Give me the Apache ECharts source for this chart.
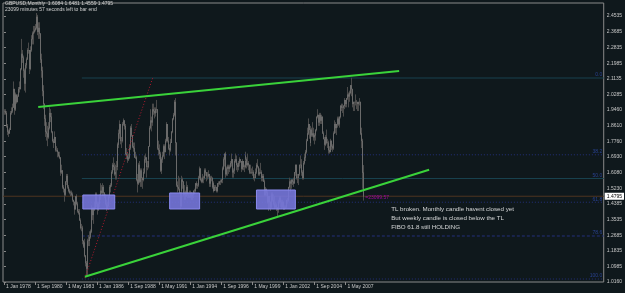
<!DOCTYPE html>
<html><head><meta charset="utf-8">
<script src="https://cdn.jsdelivr.net/npm/echarts@6/dist/echarts.min.js"></script>
<style>html,body{margin:0;padding:0;background:#0f181c;}#c{width:625px;height:293px;}</style>
</head><body><div id="c"></div>
<script>
// ---- data: GBPUSD monthly, Jan 1978 .. Nov 2008 (month index 0 = Jan 1978) ----
const firstOpen = 1.94;
const highs = [
1.95,1.95,1.94,1.87,1.84,1.85,1.94,1.96,1.98,2.10,2.06,2.04,
2.02,2.03,2.07,2.09,2.10,2.17,2.33,2.27,2.24,2.17,2.20,2.23,
2.28,2.31,2.27,2.29,2.35,2.37,2.40,2.40,2.41,2.47,2.46,2.42,
2.42,2.36,2.25,2.18,2.08,1.98,1.92,1.88,1.86,1.88,1.96,1.95,
1.93,1.87,1.83,1.79,1.83,1.80,1.75,1.74,1.72,1.72,1.69,1.65,
1.62,1.54,1.52,1.56,1.60,1.60,1.54,1.52,1.51,1.51,1.50,1.46,
1.45,1.48,1.49,1.45,1.41,1.41,1.36,1.33,1.32,1.24,1.25,1.23,
1.16,1.13,1.25,1.27,1.29,1.30,1.43,1.42,1.42,1.45,1.50,1.50,
1.45,1.45,1.49,1.55,1.54,1.55,1.54,1.50,1.49,1.46,1.45,1.48,
1.54,1.55,1.62,1.66,1.69,1.66,1.65,1.66,1.67,1.77,1.84,1.89,
1.87,1.80,1.88,1.90,1.89,1.87,1.74,1.72,1.71,1.76,1.86,1.87,
1.81,1.77,1.77,1.72,1.70,1.60,1.66,1.67,1.63,1.63,1.58,1.63,
1.70,1.71,1.69,1.67,1.69,1.75,1.86,1.95,1.91,1.98,1.98,1.96,
1.96,2.00,1.95,1.78,1.76,1.72,1.69,1.72,1.76,1.76,1.79,1.88,
1.87,1.80,1.76,1.79,1.83,1.90,1.93,2.00,2.01,1.77,1.56,1.59,
1.58,1.50,1.52,1.59,1.58,1.56,1.54,1.51,1.56,1.54,1.50,1.51,
1.51,1.50,1.50,1.51,1.52,1.55,1.56,1.55,1.59,1.64,1.63,1.58,
1.60,1.59,1.63,1.63,1.61,1.61,1.62,1.60,1.59,1.59,1.58,1.56,
1.55,1.54,1.54,1.53,1.55,1.56,1.56,1.57,1.57,1.64,1.69,1.71,
1.72,1.64,1.65,1.65,1.65,1.67,1.71,1.68,1.63,1.68,1.71,1.70,
1.66,1.67,1.69,1.68,1.67,1.68,1.66,1.65,1.71,1.72,1.69,1.71,
1.67,1.65,1.65,1.63,1.64,1.62,1.60,1.63,1.66,1.68,1.64,1.63,
1.66,1.62,1.60,1.60,1.57,1.53,1.52,1.51,1.48,1.48,1.45,1.50,
1.50,1.49,1.48,1.45,1.44,1.42,1.43,1.46,1.48,1.48,1.46,1.46,
1.45,1.43,1.43,1.46,1.47,1.53,1.58,1.57,1.57,1.57,1.58,1.61,
1.65,1.65,1.60,1.60,1.65,1.70,1.68,1.62,1.67,1.71,1.73,1.79,
1.85,1.90,1.87,1.86,1.84,1.85,1.88,1.85,1.82,1.84,1.91,1.95,
1.91,1.93,1.93,1.92,1.91,1.83,1.80,1.81,1.84,1.79,1.78,1.75,
1.79,1.78,1.76,1.83,1.89,1.88,1.87,1.91,1.91,1.91,1.97,1.98,
1.98,1.97,1.97,2.01,2.00,2.01,2.07,2.04,2.05,2.08,2.12,2.06,
1.99,1.99,2.03,2.00,1.98,1.99,2.01,1.99,1.85,1.79,1.6481];
const lows = [
1.92,1.92,1.85,1.81,1.80,1.82,1.84,1.92,1.93,1.96,1.92,1.94,
1.98,1.99,2.02,2.05,2.04,2.06,2.16,2.20,2.12,2.05,2.04,2.17,
2.22,2.25,2.14,2.16,2.26,2.30,2.30,2.36,2.37,2.38,2.35,2.33,
2.33,2.20,2.12,2.02,1.95,1.86,1.80,1.78,1.75,1.79,1.84,1.88,
1.86,1.82,1.77,1.74,1.77,1.72,1.72,1.69,1.69,1.68,1.59,1.60,
1.52,1.50,1.45,1.48,1.54,1.52,1.50,1.49,1.48,1.48,1.45,1.43,
1.38,1.41,1.43,1.39,1.38,1.35,1.30,1.29,1.22,1.20,1.18,1.15,
1.10,1.045,1.05,1.21,1.21,1.25,1.28,1.35,1.33,1.40,1.41,1.42,
1.38,1.40,1.42,1.46,1.49,1.48,1.48,1.47,1.43,1.40,1.41,1.42,
1.47,1.50,1.53,1.60,1.62,1.59,1.57,1.57,1.60,1.62,1.74,1.79,
1.76,1.74,1.77,1.86,1.84,1.70,1.68,1.66,1.67,1.68,1.73,1.80,
1.74,1.72,1.69,1.68,1.56,1.50,1.54,1.55,1.53,1.53,1.52,1.56,
1.60,1.66,1.58,1.62,1.63,1.67,1.75,1.84,1.83,1.86,1.92,1.90,
1.91,1.93,1.73,1.70,1.68,1.61,1.60,1.66,1.69,1.68,1.72,1.77,
1.77,1.73,1.70,1.72,1.77,1.82,1.89,1.91,1.70,1.53,1.50,1.51,
1.50,1.41,1.42,1.50,1.52,1.48,1.46,1.46,1.49,1.47,1.47,1.47,
1.47,1.46,1.46,1.47,1.49,1.50,1.52,1.52,1.53,1.57,1.56,1.55,
1.55,1.55,1.57,1.59,1.56,1.57,1.58,1.53,1.53,1.56,1.52,1.53,
1.50,1.52,1.51,1.50,1.50,1.53,1.54,1.54,1.55,1.55,1.62,1.64,
1.58,1.59,1.59,1.60,1.61,1.63,1.64,1.58,1.58,1.60,1.66,1.62,
1.61,1.62,1.64,1.66,1.61,1.62,1.62,1.61,1.63,1.67,1.63,1.64,
1.62,1.60,1.60,1.60,1.59,1.57,1.56,1.58,1.60,1.63,1.59,1.59,
1.60,1.56,1.56,1.56,1.48,1.48,1.48,1.44,1.40,1.41,1.40,1.42,
1.45,1.43,1.41,1.42,1.40,1.37,1.39,1.41,1.44,1.42,1.41,1.42,
1.41,1.41,1.41,1.42,1.44,1.45,1.52,1.50,1.52,1.54,1.53,1.55,
1.59,1.57,1.55,1.54,1.59,1.63,1.59,1.57,1.57,1.65,1.67,1.71,
1.78,1.81,1.79,1.76,1.75,1.80,1.80,1.78,1.76,1.78,1.83,1.90,
1.86,1.86,1.87,1.87,1.82,1.79,1.73,1.75,1.76,1.74,1.71,1.71,
1.72,1.73,1.72,1.73,1.82,1.82,1.81,1.85,1.86,1.85,1.90,1.94,
1.93,1.93,1.91,1.95,1.96,1.96,2.00,1.96,1.99,2.03,2.02,1.96,
1.94,1.94,1.97,1.95,1.94,1.94,1.97,1.81,1.74,1.52,1.4559];
const closes = [
1.94,1.93,1.86,1.83,1.82,1.84,1.93,1.94,1.96,2.06,1.95,2.03,
1.99,2.02,2.06,2.07,2.06,2.17,2.25,2.23,2.16,2.09,2.19,2.22,
2.27,2.27,2.17,2.27,2.33,2.36,2.37,2.38,2.39,2.45,2.37,2.39,
2.36,2.22,2.16,2.05,1.98,1.90,1.83,1.82,1.80,1.85,1.93,1.91,
1.87,1.83,1.78,1.77,1.80,1.73,1.73,1.72,1.70,1.69,1.61,1.62,
1.53,1.52,1.49,1.56,1.59,1.53,1.51,1.50,1.50,1.49,1.46,1.45,
1.41,1.48,1.44,1.40,1.39,1.35,1.31,1.31,1.24,1.21,1.23,1.16,
1.12,1.09,1.24,1.24,1.26,1.29,1.41,1.38,1.41,1.42,1.49,1.44,
1.41,1.44,1.48,1.51,1.50,1.53,1.50,1.48,1.44,1.42,1.43,1.48,
1.53,1.54,1.61,1.65,1.64,1.60,1.61,1.64,1.64,1.76,1.82,1.87,
1.78,1.78,1.87,1.89,1.86,1.71,1.70,1.68,1.69,1.74,1.85,1.81,
1.75,1.74,1.69,1.69,1.57,1.55,1.65,1.56,1.62,1.58,1.57,1.61,
1.68,1.69,1.64,1.64,1.68,1.75,1.85,1.89,1.88,1.95,1.94,1.93,
1.95,1.95,1.74,1.73,1.71,1.62,1.68,1.70,1.75,1.72,1.78,1.87,
1.78,1.74,1.73,1.77,1.83,1.90,1.92,1.99,1.77,1.54,1.53,1.52,
1.50,1.43,1.51,1.57,1.56,1.49,1.50,1.48,1.53,1.49,1.48,1.48,
1.50,1.48,1.49,1.51,1.51,1.55,1.54,1.54,1.58,1.63,1.57,1.56,
1.58,1.58,1.62,1.61,1.59,1.59,1.60,1.55,1.58,1.58,1.53,1.55,
1.51,1.53,1.53,1.51,1.55,1.55,1.56,1.56,1.57,1.63,1.68,1.71,
1.60,1.63,1.64,1.63,1.64,1.66,1.68,1.61,1.62,1.67,1.68,1.65,
1.64,1.66,1.68,1.67,1.63,1.67,1.64,1.64,1.70,1.68,1.65,1.66,
1.65,1.61,1.61,1.61,1.61,1.58,1.58,1.61,1.65,1.64,1.60,1.61,
1.61,1.58,1.59,1.56,1.49,1.52,1.50,1.45,1.48,1.45,1.42,1.49,
1.46,1.44,1.42,1.43,1.42,1.41,1.42,1.45,1.47,1.45,1.42,1.45,
1.41,1.42,1.42,1.46,1.46,1.53,1.56,1.55,1.57,1.56,1.55,1.61,
1.65,1.58,1.58,1.60,1.65,1.65,1.61,1.58,1.66,1.69,1.72,1.78,
1.82,1.87,1.84,1.77,1.84,1.81,1.82,1.80,1.81,1.84,1.91,1.92,
1.88,1.92,1.89,1.91,1.82,1.79,1.76,1.80,1.77,1.77,1.73,1.72,
1.78,1.75,1.74,1.82,1.87,1.85,1.87,1.90,1.87,1.91,1.97,1.96,
1.96,1.96,1.97,2.00,1.98,2.01,2.03,2.02,2.04,2.08,2.06,1.98,
1.99,1.99,1.99,1.99,1.98,1.99,1.99,1.82,1.78,1.6084,1.4795];

const xTickMonths = [0,32,64,96,128,160,192,224,256,288,320,352];
const xTickLabels = ['1 Jan 1978','1 Sep 1980','1 May 1983','1 Jan 1986','1 Sep 1988','1 May 1991',
  '1 Jan 1994','1 Sep 1996','1 May 1999','1 Jan 2002','1 Sep 2004','1 May 2007'];
const yTickValues = [2.4535,2.3685,2.2835,2.1985,2.1135,2.0285,1.9460,1.8610,1.7760,1.6930,
  1.6080,1.5230,1.4385,1.3535,1.2685,1.1835,1.0985,1.0160];

const bidPrice = 1.4795;
// fibonacci tool (from 1985 low to level 0)
const fibHigh = 2.1186, fibLow = 1.0322, fibStartMonth = 80.3;
const fibLevels = ['0.0','38.2','50.0','61.8','78.6','100.0'];
// trend lines [month, price]
const upperTL = [[35.3, 1.9617], [407.4, 2.1565]];
const lowerTL = [[83.4, 1.0447], [438.3, 1.623]];
const fibDiag = [[83.4, 1.037], [153.3, 2.1186]];
// zones [monthStart, monthEnd, priceTop, priceBottom]
const zones = [[81.3, 114.2, 1.4862, 1.4106], [170.8, 201.7, 1.4971, 1.4106], [260.3, 300.4, 1.5133, 1.4106]];
const noteLines = ['TL broken. Monthly candle havent closed yet', 'But weekly candle is closed below the TL', 'FIBO 61.8 still HOLDING'];
const notePrices = [1.4106, 1.3620, 1.3133];
const noteMonth = 399.2;
const tickerText = '=23099.57';
const tickerPos = [372.5, 1.470];

// ---- chart ----
const FONT = 'Liberation Sans';
const xMin = -1, xMax = 618.3, yMin = 1.016, yMax = 2.524;
const candles = highs.map((h, i) => [i, i === 0 ? firstOpen : closes[i - 1], closes[i], lows[i], h]);

const fibSeries = [], fibLabelData = [];
fibLevels.forEach((lv) => {
  const p = fibHigh - parseFloat(lv) / 100 * (fibHigh - fibLow);
  const solid = (lv === '0.0' || lv === '50.0');
  fibSeries.push({
    type: 'line', data: [[fibStartMonth, p], [xMax, p]], symbol: 'none', silent: true, z: 2,
    lineStyle: { color: solid ? '#18414e' : '#24307c', width: 1, type: solid ? 'solid' : (lv === '78.6' ? [3, 2] : [1, 2]) }
  });
  fibLabelData.push([xMax - 0.5, p, lv]);
});

const chart = echarts.init(document.getElementById('c'));
chart.setOption({
  backgroundColor: '#0f181c',
  animation: false,
  title: {
    text: 'GBPUSD,Monthly  1.6084 1.6481 1.4559 1.4795',
    subtext: '23099 minutes 57 seconds left to bar end',
    left: 5, top: 1, itemGap: 1, padding: 0,
    textStyle: { fontFamily: FONT, fontSize: 5, fontWeight: 'normal', color: '#d0d0d0' },
    subtextStyle: { fontFamily: FONT, fontSize: 5, color: '#d0d0d0' }
  },
  grid: { left: 3, right: 20, top: 3, bottom: 11, show: true, borderColor: '#8a8a8a', borderWidth: 1, backgroundColor: 'transparent' },
  xAxis: {
    type: 'value', min: xMin, max: xMax,
    axisLine: { show: false },
    splitLine: { show: false },
    axisTick: { show: true, customValues: xTickMonths, length: 3, lineStyle: { color: '#8a8a8a' } },
    axisLabel: {
      customValues: xTickMonths, align: 'left', margin: 2, padding: [0, 0, 0, 2],
      fontFamily: FONT, fontSize: 5, color: '#c8c8c8',
      formatter: v => xTickLabels[xTickMonths.indexOf(v)] || ''
    }
  },
  yAxis: {
    type: 'value', position: 'right', min: yMin, max: yMax, scale: true,
    axisLine: { show: false },
    splitLine: { show: false },
    axisTick: { show: true, customValues: yTickValues, length: 2, lineStyle: { color: '#8a8a8a' } },
    axisLabel: {
      customValues: yTickValues, margin: 3, fontFamily: FONT, fontSize: 5, color: '#c8c8c8',
      formatter: v => v.toFixed(4)
    }
  },
  series: [
    // bid line
    {
      type: 'line', data: [[xMin, bidPrice], [xMax, bidPrice]], symbol: 'none', silent: true, z: 1,
      lineStyle: { color: '#4e3420', width: 1 },
      endLabel: { show: true, formatter: () => bidPrice.toFixed(4), backgroundColor: '#ffffff', color: '#000000',
        fontFamily: FONT, fontSize: 5, padding: [1, 2, 1, 2], distance: 1 }
    },
    ...fibSeries,
    {
      type: 'scatter', data: fibLabelData, symbolSize: 0, silent: true, z: 3,
      label: { show: true, position: 'left', distance: 1, offset: [0, -3], formatter: p => p.data[2],
        fontFamily: FONT, fontSize: 5, color: '#2f4cae' }
    },
    // candles
    {
      type: 'custom', data: candles, z: 4,
      encode: { x: 0, y: [1, 2, 3, 4] },
      renderItem: (params, api) => {
        const x = api.value(0);
        const ph = api.coord([x, api.value(4)]), pl = api.coord([x, api.value(3)]);
        const po = api.coord([x, api.value(1)]), pc = api.coord([x, api.value(2)]);
        const px = Math.round(ph[0]) + 0.5;
        return { type: 'group', children: [
          { type: 'line', shape: { x1: px, y1: ph[1], x2: px, y2: pl[1] }, style: { stroke: '#4a4a4a', lineWidth: 1 } },
          { type: 'line', shape: { x1: px, y1: Math.min(po[1], pc[1]), x2: px, y2: Math.max(po[1], pc[1]) + 0.5 }, style: { stroke: '#6a6a6a', lineWidth: 1 } }
        ] };
      }
    },
    // fib diagonal
    { type: 'line', data: fibDiag, symbol: 'none', silent: true, z: 5, lineStyle: { color: '#b3182e', width: 1, type: [1, 2] } },
    // trend lines
    { type: 'line', data: upperTL, symbol: 'none', silent: true, z: 6, lineStyle: { color: '#3ad23a', width: 2 } },
    { type: 'line', data: lowerTL, symbol: 'none', silent: true, z: 6, lineStyle: { color: '#3ad23a', width: 2 } },
    // zones
    {
      type: 'custom', data: zones, z: 7,
      renderItem: (params, api) => {
        const a = api.coord([api.value(0), api.value(2)]), b = api.coord([api.value(1), api.value(3)]);
        return { type: 'rect', shape: { x: a[0], y: a[1], width: b[0] - a[0], height: b[1] - a[1] },
          style: { fill: 'rgba(118,118,218,0.9)', stroke: '#8a8aee', lineWidth: 1 } };
      }
    },
    // ticker label
    {
      type: 'scatter', data: [tickerPos], symbolSize: 0, silent: true, z: 8,
      label: { show: true, position: 'right', distance: 0, formatter: tickerText, fontFamily: FONT, fontSize: 5, color: '#c000c0' }
    },
    // notes
    {
      type: 'scatter', data: notePrices.map((p, i) => [noteMonth, p, noteLines[i]]), symbolSize: 0, silent: true, z: 8,
      label: { show: true, position: 'right', distance: 0, formatter: p => p.data[2], fontFamily: FONT, fontSize: 6.2, color: '#ffffff' }
    }
  ]
});
</script></body></html>
